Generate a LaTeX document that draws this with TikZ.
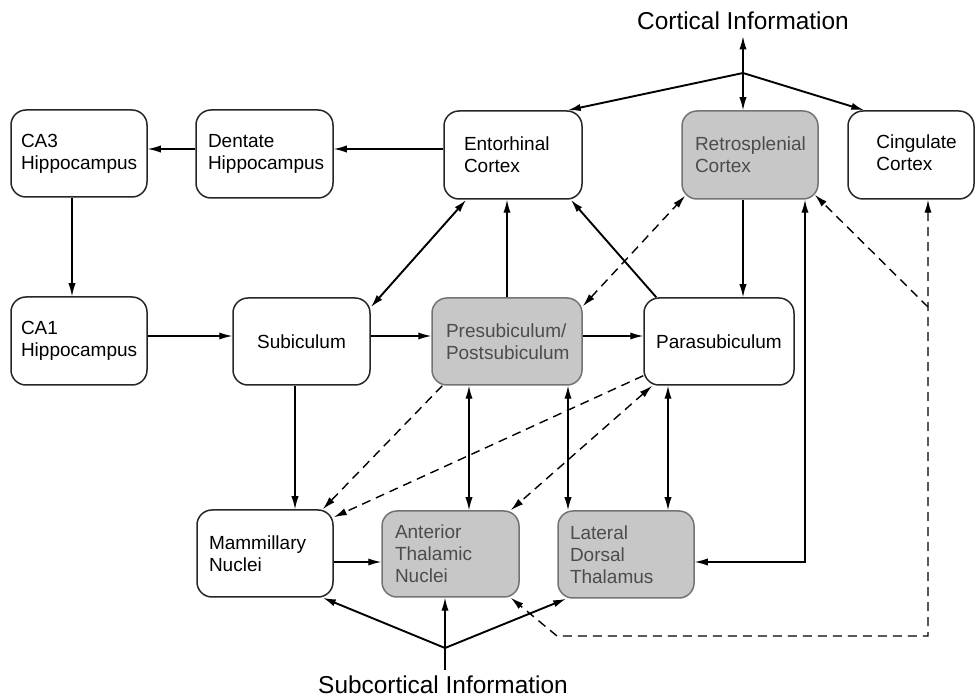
\documentclass[tikz,border=0pt]{standalone}
\usepackage{fontspec}
\setmainfont{Liberation Sans}
\usetikzlibrary{arrows.meta,calc}
\begin{document}
\begin{tikzpicture}[x=0.5pt,y=-0.5pt,
  box/.style={draw=black!85, line width=0.75pt, rounded corners=7.5pt, fill=white,
    font=\fontsize{9.5pt}{11pt}\selectfont, align=left, inner ysep=0pt},
  graybox/.style={box, fill=black!22, draw=black!55, text=black!70},
  tip/.tip={Latex[length=6.5pt,width=3.6pt]},
  arr/.style={-tip, line width=0.65pt},
  darr/.style={tip-tip, line width=0.65pt},
  thk/.style={line width=0.95pt},
  dsh/.style={dash pattern=on 4.5pt off 3pt, line width=0.7pt},
  big/.style={font=\fontsize{12.2pt}{14pt}\selectfont, inner xsep=1pt, inner ysep=3pt}
]
\useasboundingbox (0,0) rectangle (976,700);

% helper coordinates
\coordinate (y149) at (0,149);
\coordinate (y336) at (0,336);
\coordinate (y562) at (0,562);
\coordinate (y636) at (0,636);
\coordinate (y307) at (0,307);
\coordinate (x72) at (72,0);
\coordinate (x295) at (295,0);
\coordinate (x469) at (469,0);
\coordinate (x507) at (507,0);
\coordinate (x568) at (568,0);
\coordinate (x668) at (668,0);
\coordinate (x743) at (743,0);
\coordinate (x805) at (805,0);
\coordinate (x928) at (928,0);

% row 1
\node[box, text width=58pt, inner xsep=5pt, minimum height=43.5pt] (ca3) at (79,153.5) {CA3\\Hippocampus};
\node[box, text width=56.5pt, inner xsep=6pt, minimum height=44pt] (dg) at (264.5,154) {Dentate\\Hippocampus};
\node[box, text width=49pt, inner xsep=10pt, minimum height=44pt] (ent) at (513,155) {Entorhinal\\Cortex};
\node[graybox, text width=55pt, inner xsep=6.5pt, minimum height=44pt] (rsp) at (750,155) {Retrosplenial\\Cortex};
\node[box, minimum width=63pt, minimum height=44pt] (cing) at (911,155) {};
\node[font=\fontsize{9.5pt}{11pt}\selectfont, align=left, anchor=west, inner sep=0pt] (cingt) at (876,153) {Cingulate\\Cortex};

% row 2
\node[box, text width=58pt, inner xsep=5pt, minimum height=44pt] (ca1) at (79,341) {CA1\\Hippocampus};
\node[box, align=center, minimum width=68.5pt, minimum height=43.5pt] (sub) at (301.5,341.5) {Subiculum};
\node[graybox, text width=61pt, inner xsep=7pt, minimum height=43.5pt] (pre) at (507,341.5) {Presubiculum/\\Postsubiculum};
\node[box, align=center, minimum width=75pt, minimum height=43.5pt] (para) at (719,341.5) {Parasubiculum};

% row 3
\node[box, text width=56pt, inner xsep=6pt, minimum height=43.5pt] (mam) at (265,553.5) {Mammillary\\Nuclei};
\node[graybox, text width=55.5pt, inner xsep=6.5pt, minimum height=43pt] (ant) at (450.5,554) {Anterior\\Thalamic\\Nuclei};
\node[graybox, text width=56pt, inner xsep=6pt, minimum height=43.5pt] (lat) at (626,554.5) {Lateral\\Dorsal\\Thalamus};

% external labels
\node[big] (cort) at (743,21) {Cortical Information};
\node[big] (subc) at (443,685) {Subcortical Information};
\coordinate (cf) at (743,73);
\coordinate (sf) at (445,648);
\coordinate (dk) at (557,636);

% solid connectors
\draw[arr] (dg.west |- y149) -- (ca3.east |- y149);
\draw[arr] (ent.west |- y149) -- (dg.east |- y149);
\draw[arr] (ca3.south -| x72) -- (ca1.north -| x72);
\draw[arr] (ca1.east |- y336) -- (sub.west |- y336);
\draw[arr] (sub.east |- y336) -- (pre.west |- y336);
\draw[arr] (pre.east |- y336) -- (para.west |- y336);
\draw[darr, thk] ($(sub.north east)+(0,10)$) -- ($(ent.south west)+(23,0)$);
\draw[arr] (pre.north -| x507) -- (ent.south -| x507);
\draw[arr, thk] ($(para.north west)+(13,0)$) -- ($(ent.south east)+(-12,0)$);
\draw[arr] (rsp.south -| x743) -- (para.north -| x743);
\draw[darr] (lat.east |- y562) -- (x805 |- y562) -- (rsp.south -| x805);
\draw[arr] (sub.south -| x295) -- (mam.north -| x295);
\draw[darr] (pre.south -| x469) -- (ant.north -| x469);
\draw[darr] (pre.south -| x568) -- (lat.north -| x568);
\draw[darr] (para.south -| x668) -- (lat.north -| x668);
\draw[arr] (mam.east |- y562) -- (ant.west |- y562);

% cortical fork
\draw[arr] (cf) -- (cort.south);
\draw[arr, thk] (cf) -- ($(ent.north east)+(-15,0)$);
\draw[arr] (cf) -- (rsp.north -| cf);
\draw[arr, thk] (cf) -- ($(cing.north west)+(17,0)$);

% subcortical fork
\draw[line width=0.7pt] (subc.north -| sf) -- (sf);
\draw[arr, thk] (sf) -- ($(mam.south east)+(-11,0)$);
\draw[arr] (sf) -- (ant.south -| sf);
\draw[arr, thk] (sf) -- ($(lat.south west)+(9,0)$);

% dashed connectors
\draw[darr, dsh] ($(pre.north east)+(0,9)$) -- ($(rsp.south west)+(4,-4)$);
\draw[darr, dsh] (cing.south -| x928) -- (x928 |- y636) -- (dk) -- ($(ant.south east)+(-9,0)$);
\draw[arr, dsh] (x928 |- y307) -- ($(rsp.south east)+(-4,-5)$);
\draw[arr, dsh] ($(pre.south west)+(11,0)$) -- ($(mam.north east)+(-11,0)$);
\draw[arr, dsh] ($(para.south west)+(0,-10)$) -- ($(mam.north east)+(0,8)$);
\draw[darr, dsh] ($(para.south west)+(9,0)$) -- ($(ant.north east)+(-9,0)$);
\end{tikzpicture}
\end{document}
